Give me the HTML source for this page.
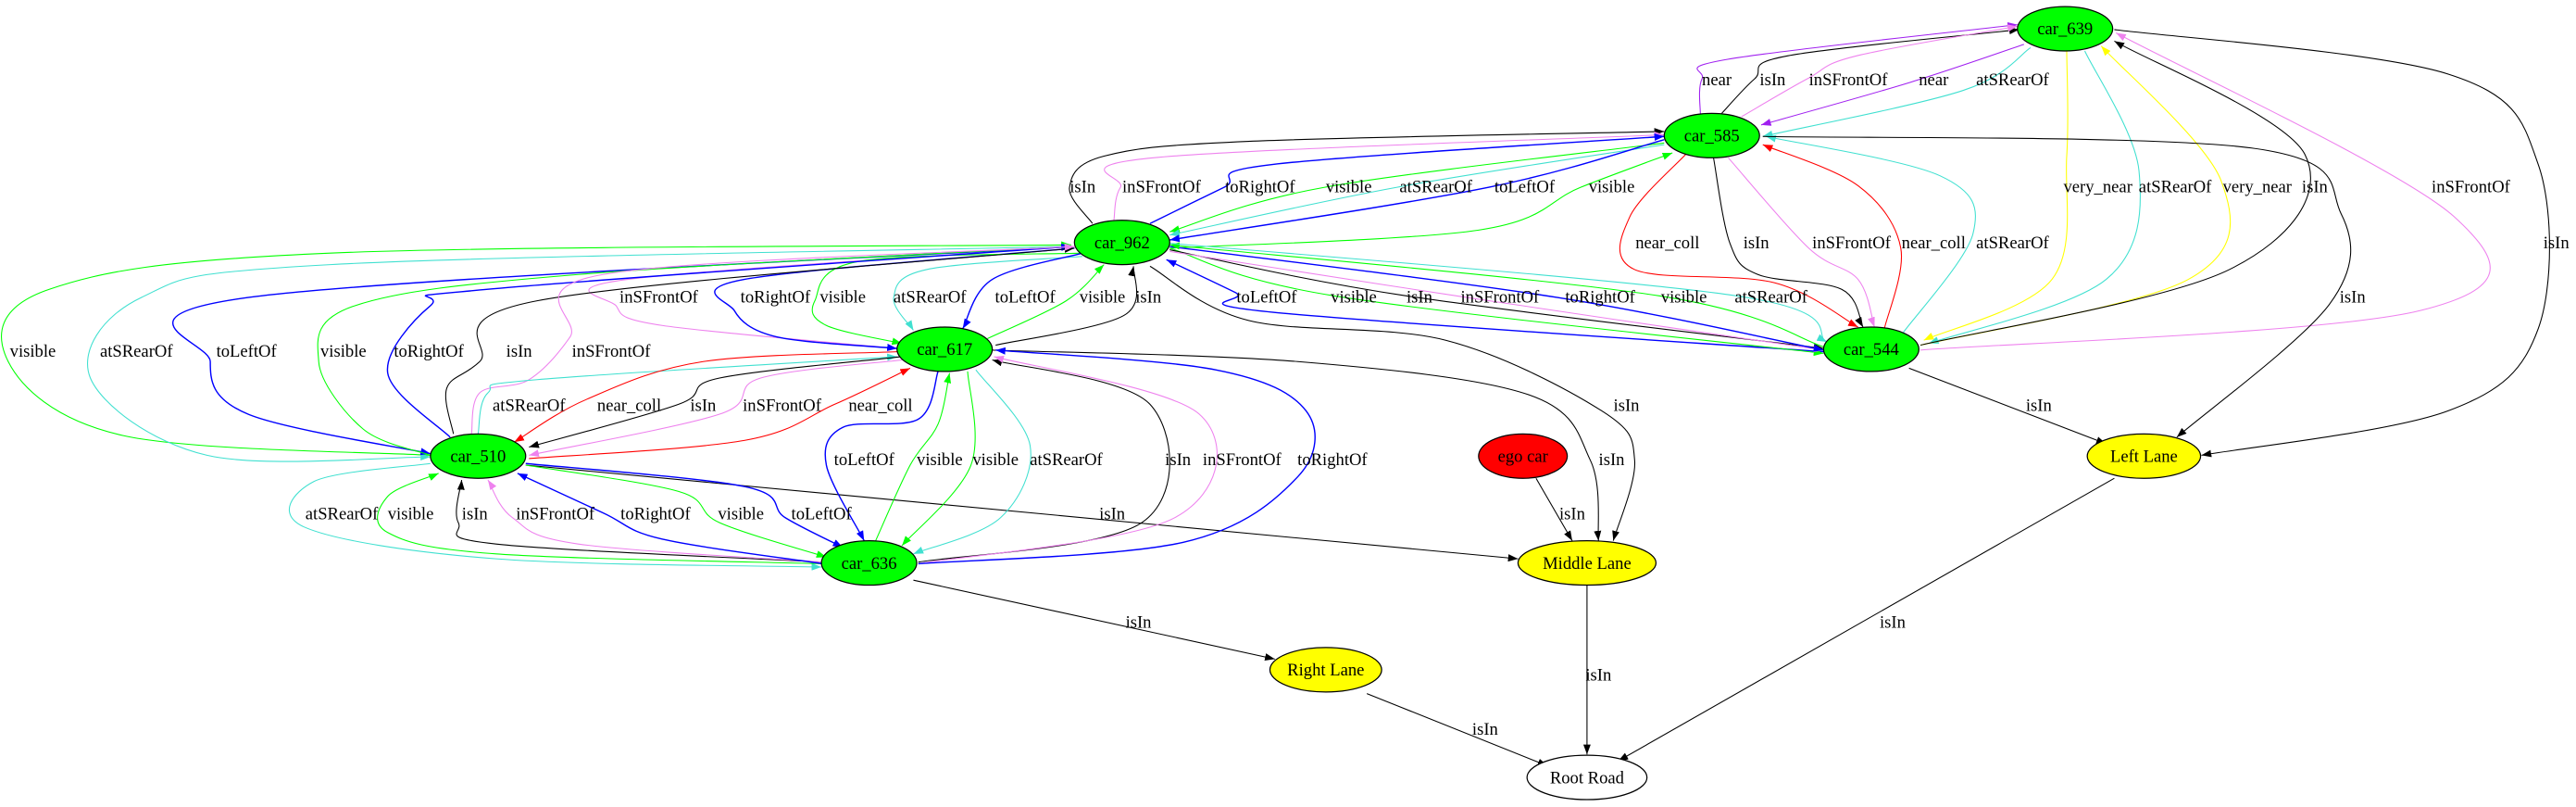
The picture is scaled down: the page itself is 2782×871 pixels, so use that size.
<!DOCTYPE html>
<html><head><meta charset="utf-8"><style>
html,body{margin:0;padding:0;background:#fff;}
svg{display:block;}
text{font-family:"Liberation Serif",serif;font-size:10.5px;text-anchor:middle;}
</style></head><body>
<svg id="g" width="2782" height="871" viewBox="0 0 1568 491" preserveAspectRatio="none" xmlns="http://www.w3.org/2000/svg">
<defs id="defs"></defs>
<g id="edges"></g>
<g id="nodes" stroke="#000" stroke-width="0.7">
<ellipse cx="1257" cy="17.5" rx="29" ry="13.5" fill="#00ff00"/>
<ellipse cx="1042" cy="82.5" rx="29" ry="13.5" fill="#00ff00"/>
<ellipse cx="683" cy="147.5" rx="29" ry="13.5" fill="#00ff00"/>
<ellipse cx="575" cy="212.5" rx="29" ry="13.5" fill="#00ff00"/>
<ellipse cx="1139" cy="212.5" rx="29" ry="13.5" fill="#00ff00"/>
<ellipse cx="291" cy="277.5" rx="29" ry="13.5" fill="#00ff00"/>
<ellipse cx="529" cy="342.5" rx="29" ry="13.5" fill="#00ff00"/>
<ellipse cx="927" cy="277.5" rx="27" ry="13.5" fill="#ff0000"/>
<ellipse cx="1305" cy="277.5" rx="34.5" ry="13.5" fill="#ffff00"/>
<ellipse cx="966" cy="342.5" rx="42" ry="13.5" fill="#ffff00"/>
<ellipse cx="807" cy="407.5" rx="34" ry="13.5" fill="#ffff00"/>
<ellipse cx="966" cy="473" rx="36.5" ry="13.5" fill="#ffffff"/>
</g>
<g id="nodelabels">
<text x="1257" y="21">car_639</text>
<text x="1042" y="86">car_585</text>
<text x="683" y="151">car_962</text>
<text x="575" y="216">car_617</text>
<text x="1139" y="216">car_544</text>
<text x="291" y="281">car_510</text>
<text x="529" y="346">car_636</text>
<text x="927" y="281">ego car</text>
<text x="1305" y="281">Left Lane</text>
<text x="966" y="346">Middle Lane</text>
<text x="807" y="411">Right Lane</text>
<text x="966" y="476.5">Root Road</text>
</g>
<g id="labels">
<text x="1045" y="52">near</text><text x="1079" y="52">isIn</text><text x="1125" y="52">inSFrontOf</text><text x="1177" y="52">near</text><text x="1225" y="52">atSRearOf</text>
<text x="659" y="117">isIn</text><text x="707" y="117">inSFrontOf</text><text x="767" y="117">toRightOf</text><text x="821" y="117">visible</text><text x="874" y="117">atSRearOf</text><text x="928" y="117">toLeftOf</text><text x="981" y="117">visible</text><text x="1277" y="117">very_near</text><text x="1324" y="117">atSRearOf</text><text x="1374" y="117">very_near</text><text x="1409" y="117">isIn</text><text x="1504" y="117">inSFrontOf</text>
<text x="1015" y="151">near_coll</text><text x="1069" y="151">isIn</text><text x="1127" y="151">inSFrontOf</text><text x="1177" y="151">near_coll</text><text x="1225" y="151">atSRearOf</text><text x="1556" y="151">isIn</text>
<text x="401" y="184">inSFrontOf</text><text x="472" y="184">toRightOf</text><text x="513" y="184">visible</text><text x="566" y="184">atSRearOf</text><text x="624" y="184">toLeftOf</text><text x="671" y="184">visible</text><text x="699" y="184">isIn</text><text x="771" y="184">toLeftOf</text><text x="824" y="184">visible</text><text x="864" y="184">isIn</text><text x="913" y="184">inSFrontOf</text><text x="974" y="184">toRightOf</text><text x="1025" y="184">visible</text><text x="1078" y="184">atSRearOf</text><text x="1432" y="184">isIn</text>
<text x="20" y="217">visible</text><text x="83" y="217">atSRearOf</text><text x="150" y="217">toLeftOf</text><text x="209" y="217">visible</text><text x="261" y="217">toRightOf</text><text x="316" y="217">isIn</text><text x="372" y="217">inSFrontOf</text>
<text x="322" y="250">atSRearOf</text><text x="383" y="250">near_coll</text><text x="428" y="250">isIn</text><text x="476" y="250">inSFrontOf</text><text x="536" y="250">near_coll</text><text x="990" y="250">isIn</text><text x="1241" y="250">isIn</text>
<text x="526" y="283">toLeftOf</text><text x="572" y="283">visible</text><text x="606" y="283">visible</text><text x="649" y="283">atSRearOf</text><text x="717" y="283">isIn</text><text x="756" y="283">inSFrontOf</text><text x="811" y="283">toRightOf</text><text x="981" y="283">isIn</text>
<text x="208" y="316">atSRearOf</text><text x="250" y="316">visible</text><text x="289" y="316">isIn</text><text x="338" y="316">inSFrontOf</text><text x="399" y="316">toRightOf</text><text x="451" y="316">visible</text><text x="500" y="316">toLeftOf</text><text x="677" y="316">isIn</text><text x="957" y="316">isIn</text>
<text x="693" y="382">isIn</text><text x="1152" y="382">isIn</text>
<text x="973" y="414">isIn</text>
<text x="904" y="447">isIn</text>
</g>
</svg>
<script>
var C={k:"#000000",b:"#0000ff",g:"#00ff00",c:"#40e0d0",v:"#ee82ee",p:"#a020f0",r:"#ff0000",y:"#ffff00"};
var E=[
"p|1035,70 1036,48 1052,36 1228,15","k|1048,69 1068,48 1088,34 1229,18","v|1060,71 1100,48 1130,34 1228,16","p|1232,27 1163,50 1072,76","c|1236,29 1195,55 1073,83",
"k|665,136 651,114 672,95 760,86 1013,80","v|678,134 682,114 702,96 1013,82","b|700,136 745,114 775,100 1013,83","g|1013,87 806,114 712,141","c|1013,88 850,114 712,143","b|1013,85 906,114 712,146","g|712,151 900,140 962,114 1018,93",
"b|1110,214 775,190 752,178 710,158","g|712,151 812,180 1110,215","k|712,152 856,180 1110,212","v|712,153 893,181 1110,213","b|712,150 948,181 1110,213","g|1110,211 1010,180 712,149","c|712,148 1057,180 1112,208",
"r|1026,94 992,132 995,164 1080,172 1131,199","k|1043,96 1053,148 1070,167 1121,176 1134,199","v|1052,96 1101,151 1131,170 1141,199","r|1147,200 1157,151 1131,113 1073,88","c|1158,203 1201,142 1181,107 1075,83",
"y|1258,31 1258,95 1249,170 1171,207","c|1269,31 1302,104 1282,170 1174,209","y|1169,210 1332,170 1352,110 1279,28","k|1169,210 1357,164 1403,94 1287,25","v|1169,213 1473,189 1494,132 1288,20",
"k|1287,18 1490,45 1545,100 1545,200 1490,250 1340,277","k|1073,83 1370,90 1425,130 1418,185 1325,266","k|1162,224 1282,270",
"k|1287,291 985,463","k|966,356 966,459","k|832,422 942,466","k|935,291 957,329",
"k|700,162 760,195 880,207 975,250 995,280 982,329","k|604,213 790,220 930,240 968,280 973,329","k|320,283 924,340","k|556,353 776,401",
"v|654,150 382,170 375,186 403,198 546,212","b|654,151 453,170 447,189 473,205 546,212","g|659,154 523,159 496,183 503,198 549,209","c|659,156 564,164 544,181 556,201","b|659,154 604,170 586,200","g|601,206 649,183 672,161","k|606,210 684,192 690,162",
"g|262,277 75,265 5,220 30,176 201,154 652,149","c|652,150 201,161 86,181 55,230 126,277 262,278","b|652,150 151,181 128,220 151,252 262,276","g|262,277 221,261 194,220 216,186 352,167 652,150","b|274,266 236,227 262,186 297,176 652,150","k|276,264 272,236 292,220 327,183 654,151","v|287,264 292,239 322,231 347,205 367,167 654,150",
"c|291,264 297,239 327,231 546,217","r|546,214 428,220 357,243 313,269","k|549,217 438,230 413,246 322,272","v|549,219 463,230 438,252 322,277","r|322,279 453,268 508,246 554,224",
"b|571,226 559,255 513,260 503,283 526,329","g|533,329 554,283 571,258 578,227","g|589,226 591,283 549,332","c|594,225 627,271 609,315 556,337","k|559,342 695,318 700,246 604,219","v|559,343 715,315 730,252 605,217","b|559,343 720,330 790,290 795,250 740,225 606,213",
"c|262,282 191,293 186,321 302,340 500,345","g|501,343 302,337 236,324 236,302 267,288","k|501,342 302,331 279,318 281,292","v|501,342 352,331 312,315 297,292","b|501,343 403,328 367,312 315,288","g|320,283 413,299 438,318 503,339","b|320,282 453,296 478,315 513,333"
];
var NS="http://www.w3.org/2000/svg",defs=document.getElementById("defs"),eg=document.getElementById("edges");
for(var k in C){var m=document.createElementNS(NS,"marker");m.setAttribute("id","m"+k);m.setAttribute("viewBox","0 0 10 10");m.setAttribute("refX","10");m.setAttribute("refY","5");m.setAttribute("markerWidth","6");m.setAttribute("markerHeight","4.5");m.setAttribute("markerUnits","userSpaceOnUse");m.setAttribute("orient","auto");m.setAttribute("preserveAspectRatio","none");var a=document.createElementNS(NS,"path");a.setAttribute("d","M0,0 L10,5 L0,10z");a.setAttribute("fill",C[k]);m.appendChild(a);defs.appendChild(m);}
E.forEach(function(s){var q=s.split("|"),col=q[0],P=q[1].split(" ").map(function(t){return t.split(",").map(Number);});
var d="M"+P[0][0]+","+P[0][1];
if(P.length==2){d+=" L"+P[1][0]+","+P[1][1];}else{for(var i=0;i<P.length-1;i++){var p0=P[i-1]||P[i],p1=P[i],p2=P[i+1],p3=P[i+2]||P[i+1];
var c1=[p1[0]+(p2[0]-p0[0])/6,p1[1]+(p2[1]-p0[1])/6],c2=[p2[0]-(p3[0]-p1[0])/6,p2[1]-(p3[1]-p1[1])/6];
d+=" C"+c1[0].toFixed(1)+","+c1[1].toFixed(1)+" "+c2[0].toFixed(1)+","+c2[1].toFixed(1)+" "+p2[0]+","+p2[1];}}
var e=document.createElementNS(NS,"path");e.setAttribute("d",d);e.setAttribute("fill","none");e.setAttribute("stroke",C[col]);e.setAttribute("stroke-width",col=="b"?"0.8":"0.6");e.setAttribute("marker-end","url(#m"+col+")");eg.appendChild(e);});
</script>
</body></html>
